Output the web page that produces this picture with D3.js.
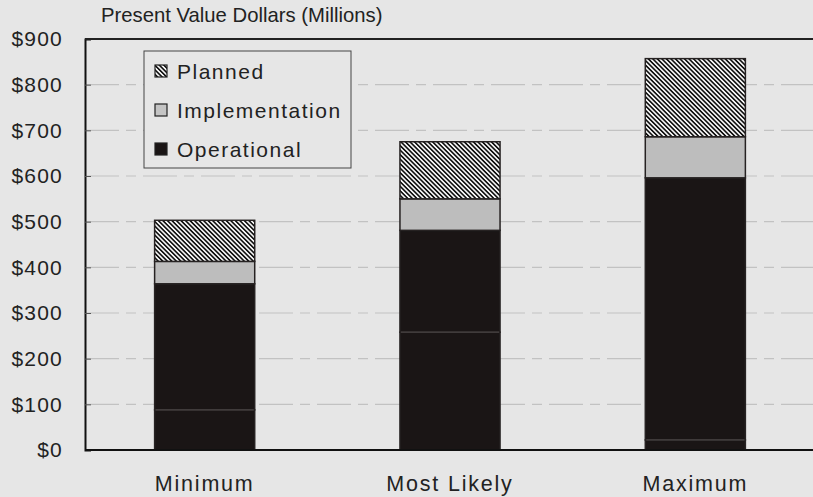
<!DOCTYPE html>
<html>
<head>
<meta charset="utf-8">
<script src="https://cdn.jsdelivr.net/npm/d3@7"></script>
<style>
  body { margin: 0; background: #e6e6e6; }
  svg { display: block; font-family: Arial, "Liberation Sans", Helvetica, sans-serif; }
</style>
</head>
<body>
<div class="chart"></div>
<script>
const width = 813;
const height = 497;

// scenarios and stacked segment values ($ millions, present value)
const scenarios = ['Minimum', 'Most Likely', 'Maximum'];
const operationalLower = [88, 258, 22];
const operationalUpper = [276, 223, 574];
const implementation = [49, 69, 90];
const planned = [90, 125, 171];
const yTicks = [0, 100, 200, 300, 400, 500, 600, 700, 800, 900];
const legendItems = ['Planned', 'Implementation', 'Operational'];

const margin = {top: 39, left: 85, bottom: 47};

const svg = d3
    .select('div.chart')
    .append('svg')
    .attr('width', width)
    .attr('height', height);

svg.append('rect')
    .attr('width', width)
    .attr('height', height)
    .attr('fill', '#e6e6e6');

const defs = svg.append('defs');
const hatch = defs.append('pattern')
    .attr('id', 'hatch')
    .attr('patternUnits', 'userSpaceOnUse')
    .attr('width', 3.2)
    .attr('height', 3.2)
    .attr('patternTransform', 'rotate(-45)');
hatch.append('rect').attr('width', 3.2).attr('height', 3.2).attr('fill', '#f4f4f4');
hatch.append('rect').attr('width', 1.6).attr('height', 3.2).attr('fill', '#111');

const x = d3.scaleBand()
    .domain(scenarios)
    .range([82, 818])
    .paddingInner(0.592)
    .paddingOuter(0.296);

const y = d3.scaleLinear()
    .domain([0, 900])
    .range([height - margin.bottom, margin.top]);

// gridlines
svg.append('g')
    .selectAll('line')
    .data(yTicks.slice(1, -1))
    .enter()
    .append('line')
    .attr('x1', margin.left)
    .attr('x2', width)
    .attr('y1', (d) => y(d))
    .attr('y2', (d) => y(d))
    .attr('stroke', '#c2c2c2')
    .attr('stroke-width', 1.2)
    .attr('stroke-dasharray', '34,7,10,7');

// stacked bars
const series = [
  {key: 'opLower', values: operationalLower, fill: '#1a1515'},
  {key: 'opUpper', values: operationalUpper, fill: '#1a1515'},
  {key: 'implementation', values: implementation, fill: '#bdbdbd'},
  {key: 'planned', values: planned, fill: 'url(#hatch)'}
];
const rows = scenarios.map(function(s, i) {
  const row = {scenario: s};
  series.forEach((ser) => row[ser.key] = ser.values[i]);
  return row;
});
const stack = d3.stack().keys(series.map((s) => s.key))(rows);

svg.append('g')
    .selectAll('g')
    .data(stack)
    .enter()
    .append('g')
    .attr('fill', (d, i) => series[i].fill)
    .selectAll('rect')
    .data((d) => d)
    .enter()
    .append('rect')
    .attr('x', (d) => x(d.data.scenario))
    .attr('width', x.bandwidth())
    .attr('y', (d) => y(d[1]))
    .attr('height', (d) => y(d[0]) - y(d[1]))
    .attr('stroke', '#262222')
    .attr('stroke-width', 1.5);

// subtle division line inside operational
svg.append('g')
    .selectAll('line')
    .data(stack[0])
    .enter()
    .append('line')
    .attr('x1', (d) => x(d.data.scenario) + 1)
    .attr('x2', (d) => x(d.data.scenario) + x.bandwidth() - 1)
    .attr('y1', (d) => y(d[1]))
    .attr('y2', (d) => y(d[1]))
    .attr('stroke', '#4a4444')
    .attr('stroke-width', 1.2);

// frame
const yAxis = d3.axisLeft(y)
    .tickValues(yTicks)
    .tickSize(-6)
    .tickPadding(22)
    .tickFormat((d) => '$' + d);

const gy = svg.append('g')
    .attr('transform', 'translate(' + margin.left + ',0)')
    .call(yAxis);
gy.select('.domain').attr('stroke', '#111').attr('stroke-width', 2);
gy.selectAll('.tick line').attr('stroke', '#555');
gy.selectAll('text')
    .attr('fill', '#222')
    .attr('font-size', 21)
    .attr('letter-spacing', 1.2)
    .attr('x', -22);

svg.append('line')
    .attr('x1', margin.left).attr('x2', width)
    .attr('y1', y(0)).attr('y2', y(0))
    .attr('stroke', '#111').attr('stroke-width', 2);
svg.append('line')
    .attr('x1', margin.left).attr('x2', width)
    .attr('y1', y(900)).attr('y2', y(900))
    .attr('stroke', '#222').attr('stroke-width', 1.8);

// x labels
svg.append('g')
    .selectAll('text')
    .data(scenarios)
    .enter()
    .append('text')
    .attr('x', (d) => x(d) + x.bandwidth() / 2)
    .attr('y', 491)
    .attr('text-anchor', 'middle')
    .attr('font-size', 21.5)
    .attr('letter-spacing', 1.8)
    .attr('fill', '#222')
    .text((d) => d);

// title
svg.append('text')
    .attr('x', 101)
    .attr('y', 22)
    .attr('font-size', 20.3)
    .attr('fill', '#222')
    .text('Present Value Dollars (Millions)');

// legend
const legend = svg.append('g');
legend.append('rect')
    .attr('x', 144)
    .attr('y', 51)
    .attr('width', 207)
    .attr('height', 117)
    .attr('fill', '#e6e6e6')
    .attr('stroke', '#444')
    .attr('stroke-width', 1);

const swatchFill = {Planned: 'url(#hatch)', Implementation: '#c4c4c4', Operational: '#1a1515'};
const li = legend.selectAll('g.item')
    .data(legendItems)
    .enter()
    .append('g')
    .attr('class', 'item')
    .attr('transform', (d, i) => 'translate(155,' + (71 + i * 39) + ')');
li.append('rect')
    .attr('x', 0)
    .attr('y', -6)
    .attr('width', 12)
    .attr('height', 12)
    .attr('fill', (d) => swatchFill[d])
    .attr('stroke', '#222')
    .attr('stroke-width', 1.2);
li.append('text')
    .attr('x', 22)
    .attr('y', 7.5)
    .attr('font-size', 21)
    .attr('letter-spacing', 1.5)
    .attr('fill', '#222')
    .text((d) => d);
</script>
</body>
</html>
